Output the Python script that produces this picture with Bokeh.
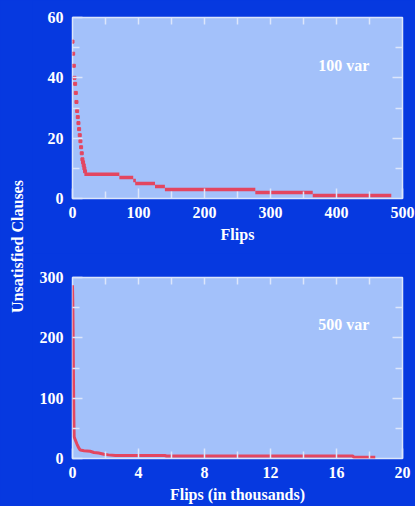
import math
from bokeh.plotting import figure
from bokeh.layouts import row, column
from bokeh.models import Range1d, LinearAxis, FixedTicker
from bokeh.core.properties import value
from bokeh.embed import file_html
from bokeh.resources import INLINE

# ---------------- data ----------------
# 100 var run: single-flip points at the start (flip, unsatisfied clauses)
early_flips = [0, 1, 2, 3, 4, 5, 6, 7, 8, 9, 10, 11, 12, 13, 14, 15, 16, 17, 18, 19]
early_vals = [52, 48, 44, 40, 38, 35, 32, 29, 27, 25, 23, 21, 19, 17, 15, 13, 12, 11, 10, 9]
# plateaus: start flip, end flip, unsatisfied clauses
run_start = [18, 71, 92, 95, 125, 140, 277, 364]
run_end = [71, 92, 96, 125, 140, 277, 364, 483]
run_vals = [8, 7, 6, 5, 4, 3, 2, 1]

# 500 var run (flips in thousands, unsatisfied clauses)
k_flips = [0.0, 0.02, 0.04, 0.06, 0.08, 0.1, 0.18, 0.27, 0.37, 0.47, 0.7, 1.07, 1.3,
           1.58, 1.9, 2.18, 2.6, 4.4, 5.6, 5.7, 17.0, 17.05, 18.35]
k_vals = [287, 255, 200, 130, 70, 36, 30, 24, 18, 14, 13, 12, 10,
          9, 7, 6, 5, 5, 5, 4, 4, 2, 2]

x1_ticks = [0, 100, 200, 300, 400, 500]
x1_minor = [50, 150, 250, 350, 450]
x1_top = [50, 100, 150, 200, 250, 300, 350, 400, 450]
y1_ticks = [0, 20, 40, 60]
y1_minor = [10, 30, 50]

x2_ticks = [0, 4, 8, 12, 16, 20]
x2_minor = [2, 6, 10, 14, 18]
x2_top = [2, 4, 6, 8, 10, 12, 14, 16, 18]
y2_ticks = [0, 100, 200, 300]
y2_minor = [50, 150, 250]

# ---------------- style ----------------
BG = "#0639E0"
PLOT_BG = "#A3C1FA"
RED = "#E34660"
TICK = "#DCE6FB"
FONT = "Liberation Serif"
FS = "16px"


def style_axis(ax, ticks, minor, major_len=10, minor_len=7):
    ax.ticker = FixedTicker(ticks=ticks, minor_ticks=minor)
    ax.major_tick_in = major_len
    ax.major_tick_out = 0
    ax.minor_tick_in = minor_len
    ax.minor_tick_out = 0
    ax.major_tick_line_color = TICK
    ax.minor_tick_line_color = TICK
    ax.major_tick_line_width = 1.5
    ax.minor_tick_line_width = 1.5
    ax.axis_line_color = None
    ax.major_label_text_font = FONT
    ax.major_label_text_font_style = "bold"
    ax.major_label_text_font_size = FS
    ax.major_label_text_color = "white"


def tick_only_axis(p, side, minor, length):
    ax = LinearAxis(ticker=FixedTicker(ticks=[], minor_ticks=minor))
    ax.major_tick_in = 0
    ax.major_tick_out = 0
    ax.minor_tick_in = length
    ax.minor_tick_out = 0
    ax.minor_tick_line_color = TICK
    ax.minor_tick_line_width = 1.5
    ax.axis_line_color = None
    ax.major_label_standoff = 0
    ax.axis_label_standoff = 0
    p.add_layout(ax, side)


def make_panel(height, top, bottom, xr, yr, xt, xm, xtop, yt, ym, xlabel, label_xstd):
    p = figure(width=383, height=height, output_backend="svg", toolbar_location=None,
               x_range=Range1d(*xr), y_range=Range1d(*yr),
               min_border_left=40, min_border_right=13,
               min_border_top=top, min_border_bottom=bottom)
    p.background_fill_color = PLOT_BG
    p.border_fill_color = BG
    p.outline_line_color = TICK
    p.outline_line_width = 1.5
    p.xgrid.visible = False
    p.ygrid.visible = False

    style_axis(p.xaxis[0], xt, xm)
    p.xaxis[0].major_label_standoff = 8
    p.xaxis[0].axis_label = xlabel
    p.xaxis[0].axis_label_text_font = FONT
    p.xaxis[0].axis_label_text_font_style = "bold"
    p.xaxis[0].axis_label_text_font_size = FS
    p.xaxis[0].axis_label_text_color = "white"
    p.xaxis[0].axis_label_standoff = label_xstd

    style_axis(p.yaxis[0], yt, ym)
    p.yaxis[0].major_label_standoff = 9

    # tick marks on the top and right edges of the frame
    tick_only_axis(p, "above", xtop, 7)
    tick_only_axis(p, "right", [t for t in yt if 0 < t < yr[1]], 10)
    tick_only_axis(p, "right", ym, 7)
    return p


p1 = make_panel(253, 17, 55, (0, 500), (0, 60), x1_ticks, x1_minor, x1_top,
                y1_ticks, y1_minor, "Flips", 5)
p1.segment(x0=run_start, y0=run_vals, x1=run_end, y1=run_vals,
           line_color=RED, line_width=3.5)
p1.scatter(x=early_flips, y=early_vals, size=3, marker="square",
           fill_color=RED, line_color=RED)
p1.text(x=[411], y=[44], text=["100 var"], text_font=value(FONT), text_font_style="bold",
        text_font_size=FS, text_color="white", text_align="center", text_baseline="middle")

p2 = make_panel(253, 24, 48, (0, 20), (0, 300), x2_ticks, x2_minor, x2_top,
                y2_ticks, y2_minor, "Flips (in thousands)", 5)
p2.line(x=k_flips, y=k_vals, line_color=RED, line_width=3)
p2.text(x=[16.45], y=[222], text=["500 var"], text_font=value(FONT), text_font_style="bold",
        text_font_size=FS, text_color="white", text_align="center", text_baseline="middle")

# left strip with the shared y-axis title
pl = figure(width=32, height=506, output_backend="svg", toolbar_location=None,
            x_range=Range1d(0, 32), y_range=Range1d(0, 506),
            x_axis_type=None, y_axis_type=None, min_border=0)
pl.background_fill_color = BG
pl.border_fill_color = BG
pl.outline_line_color = None
pl.xgrid.visible = False
pl.ygrid.visible = False
pl.text(x=[17], y=[260], text=["Unsatisfied Clauses"], angle=math.pi / 2,
        text_font=value(FONT), text_font_style="bold", text_font_size=FS,
        text_color="white", text_align="center", text_baseline="middle")

col = column(p1, p2, spacing=0)
col.styles = {"background-color": BG}
layout = row(pl, col, spacing=0)
layout.styles = {"background-color": BG}
open("out.html", "w").write(file_html(layout, INLINE))
